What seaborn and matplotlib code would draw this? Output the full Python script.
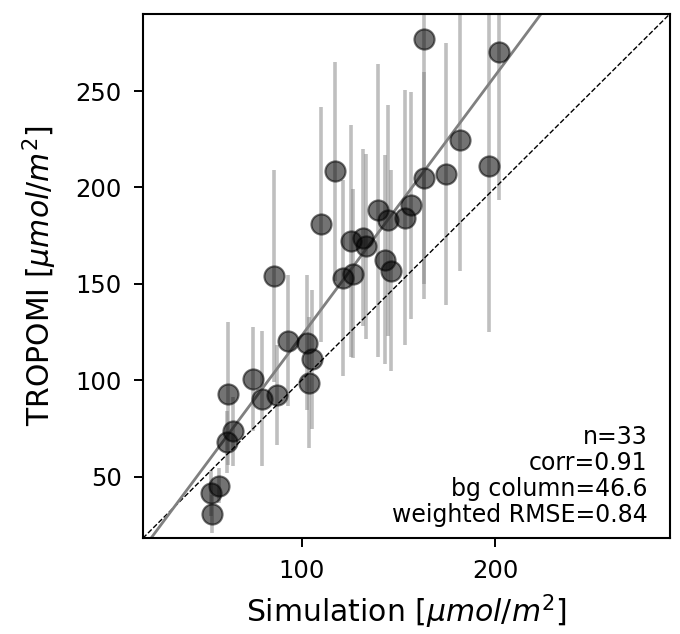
import numpy as np
import pandas as pd
import matplotlib
matplotlib.use("Agg")
import matplotlib.pyplot as plt
import seaborn as sns

sim = [163.3, 201.8, 181.6, 196.8, 163.3, 174.3, 117.4, 110.0, 139.5, 144.8, 153.1,
       156.4, 125.5, 131.5, 133.2, 143.1, 146.2, 121.1, 126.7, 85.9, 92.8, 102.8,
       105.1, 103.9, 74.9, 62.2, 79.6, 87.2, 64.7, 61.2, 57.3, 53.3, 53.6]
tropomi = [277.1, 270.5, 224.4, 210.9, 204.7, 206.9, 208.3, 180.8, 188.1, 182.9, 184.4,
           190.7, 172.2, 173.9, 169.6, 162.6, 156.8, 153.0, 155.3, 153.9, 120.4, 119.5,
           110.8, 98.6, 100.6, 93.0, 90.4, 92.4, 73.4, 67.8, 45.3, 41.3, 30.7]
err = [135, 77, 68, 86, 55, 68, 57, 61, 76, 60, 66,
       59, 60, 46, 48, 54, 52, 51, 44, 55, 34, 35,
       36, 34, 27, 37, 35, 26, 18, 16, 9, 12, 10]

#fitted line
slope = 1.351
intercept = -12.0
stats = ['n=33', 'corr=0.91', 'bg column=46.6', 'weighted RMSE=0.84']

data = pd.DataFrame({'sim': sim, 'tropomi': tropomi, 'err': err})

sns.set_style("ticks")
plt.rcParams['font.family'] = ['DejaVu Sans']
plt.rcParams['text.color'] = 'k'
plt.rcParams['axes.labelcolor'] = 'k'
plt.rcParams['xtick.color'] = 'k'
plt.rcParams['ytick.color'] = 'k'

fig, ax = plt.subplots(figsize=(6.8, 6.34), dpi=100)
fig.subplots_adjust(left=0.21, right=0.985, top=0.978, bottom=0.151)

#error bars behind the points
ax.errorbar(data['sim'], data['tropomi'], yerr=data['err'], fmt='none',
            ecolor='0.5', elinewidth=2.6, alpha=0.5, zorder=1)
sns.scatterplot(x='sim', y='tropomi', data=data, ax=ax, color='k', alpha=0.55,
                s=210, edgecolor='k', linewidth=1.5, zorder=3)

lims = (18, 290)
ax.plot(lims, lims, 'k--', lw=1, zorder=2)
ax.axline((0, intercept), slope=slope, color='0.5', lw=2, zorder=2)
ax.set_xlim(lims)
ax.set_ylim(lims)

ax.set_xticks([100, 200])
ax.set_yticks([50, 100, 150, 200, 250])
ax.tick_params(labelsize=17.5, width=1.4, length=6.5, pad=8.5)
for s in ax.spines.values():
    s.set_linewidth(1.5)
    s.set_color('k')

ax.set_xlabel('Simulation [$\\mu mol/m^2$]', fontsize=21.5, labelpad=7)
ax.set_ylabel('TROPOMI [$\\mu mol/m^2$]', fontsize=21.5, labelpad=12)

ax.text(0.958, 0.022, '\n'.join(stats), transform=ax.transAxes, ha='right',
        va='bottom', fontsize=17, linespacing=1.1)

plt.savefig('out.png', dpi=100)
